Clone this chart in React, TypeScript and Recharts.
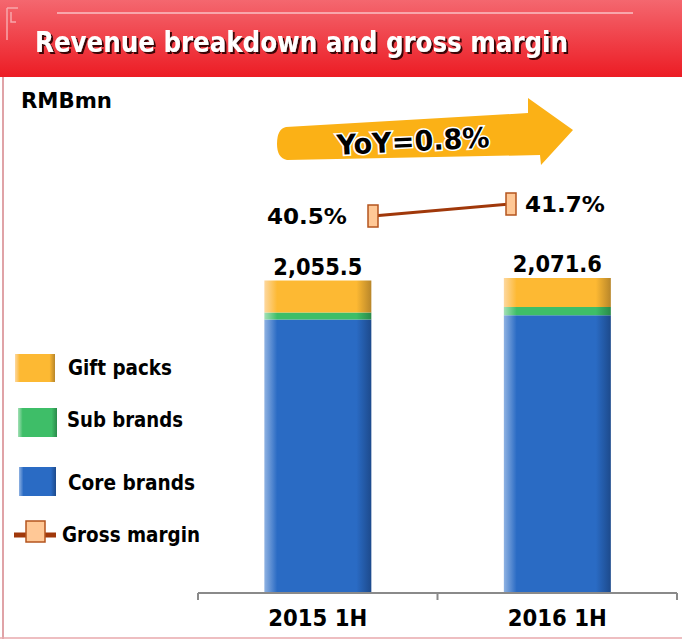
import { Bar, ComposedChart, LabelList, Legend, Line, XAxis, YAxis } from "recharts";

const periods = ["2015 1H", "2016 1H"];
const coreBrands = [1798.5, 1827.6];
const subBrands = [46.0, 53.0];
const giftPacks = [211.0, 191.0];
const totals = [2055.5, 2071.6];
const grossMargin = [40.5, 41.7];

const data = periods.map((period, i) => ({
  period,
  core: coreBrands[i],
  sub: subBrands[i],
  gift: giftPacks[i],
  total: totals[i],
  gm: grossMargin[i],
}));

const FONT = "'DejaVu Sans Condensed', 'DejaVu Sans', sans-serif";
const AXIS = "#8a8a8a";
const GM_LINE = "#a0380a";
const GM_FILL = "#ffc896";
const GM_EDGE = "#b4541e";

function PeriodTick(props: any) {
  const { x, y, payload, index, visibleTicksCount } = props;
  const half = payload?.offset ?? 0;
  const axisY = y - 9;
  return (
    <g>
      <line x1={x - half} x2={x - half} y1={axisY} y2={axisY + 7} stroke={AXIS} strokeWidth={2} />
      {index === visibleTicksCount - 1 && (
        <line x1={x + half} x2={x + half} y1={axisY} y2={axisY + 7} stroke={AXIS} strokeWidth={2} />
      )}
      <text
        x={x}
        y={axisY + 33}
        textAnchor="middle"
        fontFamily={FONT}
        fontWeight="bold"
        fontSize={23}
        textLength={99}
        lengthAdjust="spacingAndGlyphs"
        fill="#000"
      >
        {payload.value}
      </text>
    </g>
  );
}

function TotalLabel(props: any) {
  const { x, y, width, value } = props;
  const txt = Number(value).toLocaleString("en-US", { minimumFractionDigits: 1 });
  return (
    <text
      x={x + width / 2}
      y={y - 6}
      textAnchor="middle"
      fontFamily={FONT}
      fontWeight="bold"
      fontSize={23}
      textLength={89}
      lengthAdjust="spacingAndGlyphs"
      fill="#000"
    >
      {txt}
    </text>
  );
}

function MarginLabel(props: any) {
  const { x, y, value, index } = props;
  const left = index === 0;
  return (
    <text
      x={left ? x - 106 : x + 14}
      y={y + 8}
      fontFamily={FONT}
      fontWeight="bold"
      fontSize={22}
      textLength={80}
      lengthAdjust="spacingAndGlyphs"
      fill="#000"
    >
      {value.toFixed(1)}%
    </text>
  );
}

function MarginDot(props: any) {
  const { cx, cy } = props;
  return <rect x={cx - 5} y={cy - 11} width={10} height={22} fill={GM_FILL} stroke={GM_EDGE} strokeWidth={1.5} />;
}

// legend rows, top to bottom as in the slide
const legendRows: Record<string, { textX: number; base: number; width: number; box?: number[] }> = {
  gift: { textX: 68, base: 35, width: 104, box: [15, 14, 40, 28] },
  sub: { textX: 67, base: 87, width: 116, box: [18, 68, 39, 29] },
  core: { textX: 68, base: 150, width: 127, box: [19, 127, 37, 29] },
  gm: { textX: 62, base: 202, width: 138 },
};
const legendOrder = ["gift", "sub", "core", "gm"];

function SideLegend(props: any) {
  const items = (props.payload || []) as any[];
  const byKey: Record<string, any> = {};
  items.forEach((it) => (byKey[it.dataKey] = it));
  return (
    <svg width={215} height={225}>
      {legendOrder.map((key) => {
        const it = byKey[key];
        const row = legendRows[key];
        if (!it) return null;
        return (
          <g key={key}>
            {row.box ? (
              <rect x={row.box[0]} y={row.box[1]} width={row.box[2]} height={row.box[3]} fill={`url(#${key}Grad)`} />
            ) : (
              <g>
                <line x1={14} x2={56} y1={195} y2={195} stroke={GM_LINE} strokeWidth={5} />
                <rect x={26} y={181} width={19} height={21} fill={GM_FILL} stroke={GM_EDGE} strokeWidth={1.5} />
              </g>
            )}
            <text
              x={row.textX}
              y={row.base}
              fontFamily={FONT}
              fontWeight="bold"
              fontSize={22}
              textLength={row.width}
              lengthAdjust="spacingAndGlyphs"
              fill="#000"
            >
              {it.value}
            </text>
          </g>
        );
      })}
    </svg>
  );
}

function gradient(id: string, light: string, main: string, dark: string) {
  return (
    <linearGradient id={id} x1="0" y1="0" x2="1" y2="0">
      <stop offset="0%" stopColor={light} />
      <stop offset="12%" stopColor={main} />
      <stop offset="86%" stopColor={main} />
      <stop offset="100%" stopColor={dark} />
    </linearGradient>
  );
}

export default function App() {
  return (
    <div style={{ position: "relative", width: 682, height: 639, background: "#fff" }}>
      <style>{"body{margin:0}"}</style>
      <svg width={682} height={639} style={{ position: "absolute", left: 0, top: 0 }}>
        <defs>
          <linearGradient id="bannerGrad" x1="0" y1="0" x2="0" y2="1">
            <stop offset="0%" stopColor="#f4676f" />
            <stop offset="100%" stopColor="#ec1c24" />
          </linearGradient>
          <filter id="titleShadow" x="-5%" y="-20%" width="110%" height="150%">
            <feDropShadow dx={2} dy={2} stdDeviation={0.6} floodColor="#2a0505" floodOpacity={0.9} />
          </filter>
        </defs>
        <rect x={0} y={0} width={682} height={77} fill="url(#bannerGrad)" />
        <line x1={57} x2={633} y1={13} y2={13} stroke="#f8a6ab" strokeWidth={2} />
        <path d="M7 8 L7 40 M7 8 L18 8 M11 12 L11 22 L16 22" stroke="#f8a6ab" strokeWidth={1.5} fill="none" />
        <line x1={3} x2={3} y1={77} y2={639} stroke="#e0a3a7" strokeWidth={2} />
        <line x1={0} x2={682} y1={638} y2={638} stroke="#e8a8ac" strokeWidth={1.5} />
        <text
          x={35}
          y={52}
          fontFamily={FONT}
          fontWeight="bold"
          fontSize={29}
          textLength={533}
          lengthAdjust="spacingAndGlyphs"
          fill="#fff"
          filter="url(#titleShadow)"
        >
          Revenue breakdown and gross margin
        </text>
        <text
          x={21}
          y={108}
          fontFamily={FONT}
          fontWeight="bold"
          fontSize={21}
          textLength={91}
          lengthAdjust="spacingAndGlyphs"
          fill="#000"
        >
          RMBmn
        </text>
        <path
          d="M286 127 L528 113 L528 98 L573 130 L541 165 L540 155 L287 160 Q277 158 277 144 Q277 129 286 127 Z"
          fill="#fbb116"
        />
        <text
          x={413}
          y={151}
          transform="rotate(-3 413 140)"
          textAnchor="middle"
          fontFamily={FONT}
          fontWeight="bold"
          fontSize={28}
          textLength={153}
          lengthAdjust="spacingAndGlyphs"
          fill="#000"
          stroke="#fff"
          strokeWidth={3}
          paintOrder="stroke"
        >
          YoY=0.8%
        </text>
      </svg>
      <ComposedChart
        width={682}
        height={639}
        data={data}
        margin={{ top: 143, right: 5, bottom: 16, left: 198 }}
        barCategoryGap="27.7%"
        style={{ position: "absolute", left: 0, top: 0 }}
      >
        <defs>
          {gradient("coreGrad", "#8fb2e2", "#2a6bc4", "#1d4a8c")}
          {gradient("subGrad", "#a4e0b6", "#3ebe68", "#2a8a4a")}
          {gradient("giftGrad", "#fdd8a0", "#fdb933", "#b8862a")}
        </defs>
        <XAxis
          xAxisId="cat"
          dataKey="period"
          height={30}
          tickSize={7}
          tickMargin={2}
          tickLine={false}
          axisLine={{ stroke: AXIS, strokeWidth: 2 }}
          tick={<PeriodTick />}
          interval={0}
        />
        <XAxis xAxisId="gm" dataKey="period" hide padding={{ left: 106, right: 97 }} />
        <YAxis yAxisId="amt" hide domain={[0, 2960]} />
        <YAxis yAxisId="gm" hide domain={[2.8, 47.8]} />
        <Legend
          layout="horizontal"
          verticalAlign="middle"
          align="center"
          content={<SideLegend />}
          wrapperStyle={{ left: 0, top: 340, width: 215, height: 225 }}
        />
        <Bar
          name="Core brands"
          dataKey="core"
          stackId="rev"
          xAxisId="cat"
          yAxisId="amt"
          fill="url(#coreGrad)"
          isAnimationActive={false}
        />
        <Bar
          name="Sub brands"
          dataKey="sub"
          stackId="rev"
          xAxisId="cat"
          yAxisId="amt"
          fill="url(#subGrad)"
          isAnimationActive={false}
        />
        <Bar
          name="Gift packs"
          dataKey="gift"
          stackId="rev"
          xAxisId="cat"
          yAxisId="amt"
          fill="url(#giftGrad)"
          isAnimationActive={false}
        >
          <LabelList dataKey="total" content={<TotalLabel />} />
        </Bar>
        <Line
          name="Gross margin"
          dataKey="gm"
          xAxisId="gm"
          yAxisId="gm"
          stroke={GM_LINE}
          strokeWidth={3}
          dot={(p: any) => <MarginDot key={p.index} {...p} />}
          activeDot={false}
          isAnimationActive={false}
        >
          <LabelList dataKey="gm" content={<MarginLabel />} />
        </Line>
      </ComposedChart>
    </div>
  );
}
